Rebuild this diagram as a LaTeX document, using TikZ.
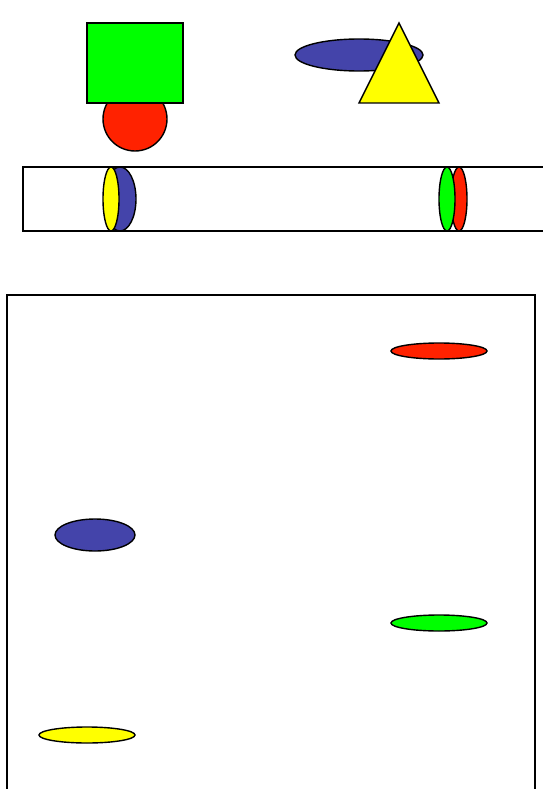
\documentclass[tikz,border=0pt]{standalone}
\usetikzlibrary{shapes.geometric}
\definecolor{shgreen}{HTML}{00FF00}
\definecolor{shred}{HTML}{FF2200}
\definecolor{shblue}{HTML}{4444AA}
\definecolor{shyellow}{HTML}{FFFF00}
\begin{document}
\begin{tikzpicture}[
  x=1pt, y=-1pt,
  line width=1.4pt,
  solid/.style={draw, inner sep=0pt, outer sep=0pt},
  oval/.style={solid, ellipse},
  frame/.style={draw, line width=1.4pt}
]
\useasboundingbox (0,0) rectangle (542,789);
% top row
\node[oval, fill=shred, minimum width=64, minimum height=64] (ball) at (135,119) {};
\node[solid, rectangle, fill=shgreen, minimum width=96, minimum height=80] (box) at (135,63) {};
\node[oval, fill=shblue, minimum width=128, minimum height=32] (disc) at (359,55) {};
\draw[fill=shyellow, line join=miter] (399,23) -- (439,103) -- (359,103) -- cycle;
% strip
\draw[frame] (550,167) -- (23,167) -- (23,231) -- (550,231);
\node[oval, fill=shblue, minimum width=32, minimum height=64] (sideblue) at (120,199) {};
\node[oval, fill=shyellow, minimum width=16, minimum height=64] (sideyellow) at (111,199) {};
\node[oval, fill=shred, minimum width=16, minimum height=64] (sidered) at (459,199) {};
\node[oval, fill=shgreen, minimum width=16, minimum height=64] (sidegreen) at (447,199) {};
% big frame
\draw[frame] (7,800) -- (7,295) -- (535,295) -- (535,800);
\node[oval, fill=shred, minimum width=96, minimum height=16] (flatred) at (439,351) {};
\node[oval, fill=shblue, minimum width=80, minimum height=32] (flatblue) at (95,535) {};
\node[oval, fill=shgreen, minimum width=96, minimum height=16] (flatgreen) at (439,623) {};
\node[oval, fill=shyellow, minimum width=96, minimum height=16] (flatyellow) at (87,735) {};
\end{tikzpicture}
\end{document}
